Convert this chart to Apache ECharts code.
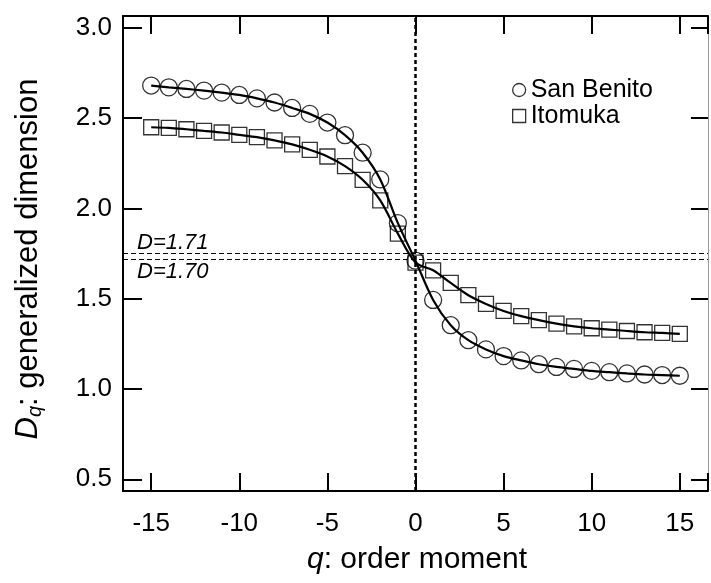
<!DOCTYPE html>
<html lang="en">
  <head>
    <meta charset="UTF-8" />
    <title>generalized dimension</title>
    <script src="https://cdn.jsdelivr.net/npm/echarts@6/dist/echarts.min.js"></script>
    <style>
      * {
        margin: 0;
        padding: 0;
      }
      html,
      body {
        background: #fff;
      }
    </style>
  </head>
  <body>
    <div id="charts" style="width: 711px; height: 583px"></div>
    <script>
      // order moment q
      var qValues = [
        -15, -14, -13, -12, -11, -10, -9, -8, -7, -6, -5, -4, -3, -2, -1, 0,
        1, 2, 3, 4, 5, 6, 7, 8, 9, 10, 11, 12, 13, 14, 15,
      ];
      // D_q values
      var sanBenito = [
        2.68, 2.67, 2.661, 2.652, 2.641, 2.628, 2.609, 2.586, 2.556, 2.523,
        2.475, 2.405, 2.308, 2.16, 1.918, 1.71, 1.493, 1.353, 1.27, 1.219,
        1.182, 1.158, 1.137, 1.122, 1.111, 1.1, 1.093, 1.086, 1.08, 1.077,
        1.073,
      ];
      var itomuka = [
        2.449, 2.446, 2.438, 2.429, 2.42, 2.407, 2.394, 2.376, 2.354, 2.324,
        2.287, 2.234, 2.158, 2.044, 1.86, 1.7, 1.657, 1.587, 1.519, 1.471,
        1.432, 1.403, 1.381, 1.362, 1.347, 1.336, 1.329, 1.321, 1.314, 1.31,
        1.305,
      ];
      // the two reference lines (drawn slightly apart in the figure)
      var refLevels = [1.745, 1.723];
      var refLabels = ["D=1.71", "D=1.70"];

      var FONT = "Liberation Sans";
      var myEcharts = echarts.init(document.getElementById("charts"));

      function pairs(ys) {
        return qValues.map(function (q, i) {
          return [q, ys[i]];
        });
      }

      var hollow = {
        color: "rgba(0,0,0,0)",
        borderColor: "#000",
        borderWidth: 1.3,
      };

      var options = {
        animation: false,
        backgroundColor: "#fff",
        grid: { left: 123, right: 1, top: 16, bottom: 92 },
        legend: {
          orient: "vertical",
          left: 507,
          top: 72,
          itemWidth: 13,
          itemHeight: 13,
          itemGap: 0,
          itemStyle: hollow,
          textStyle: {
            fontFamily: FONT,
            fontSize: 25,
            lineHeight: 26,
            color: "#000",
          },
          data: [
            { name: "San Benito", icon: "circle" },
            { name: "Itomuka", icon: "rect" },
          ],
        },
        xAxis: [
          {
            type: "value",
            min: -16.6,
            max: 16.6,
            position: "bottom",
            splitLine: { show: false },
            axisLine: { onZero: false, lineStyle: { color: "#000", width: 2 } },
            axisTick: {
              inside: true,
              length: 18,
              lineStyle: { color: "#000", width: 2 },
            },
            axisLabel: {
              margin: 20,
              fontFamily: FONT,
              fontSize: 26,
              color: "#000",
              formatter: function (v) {
                return v % 5 === 0 ? String(v) : "";
              },
            },
          },
          {
            type: "value",
            min: -16.6,
            max: 16.6,
            position: "top",
            splitLine: { show: false },
            axisLine: { onZero: false, lineStyle: { color: "#000", width: 2 } },
            axisTick: {
              inside: true,
              length: 18,
              lineStyle: { color: "#000", width: 2 },
            },
            axisLabel: { show: false },
          },
        ],
        yAxis: [
          {
            type: "value",
            min: 0.435,
            max: 3.065,
            position: "left",
            splitLine: { show: false },
            axisLine: { onZero: false, lineStyle: { color: "#000", width: 2 } },
            axisTick: {
              inside: true,
              length: 19,
              lineStyle: { color: "#000", width: 2 },
            },
            axisLabel: {
              margin: 11,
              padding: [0, 0, 10, 0],
              fontFamily: FONT,
              fontSize: 26,
              color: "#000",
              formatter: function (v) {
                var r = Math.round(v * 2) / 2;
                return Math.abs(v - r) < 1e-6 ? r.toFixed(1) : "";
              },
            },
          },
          {
            type: "value",
            min: 0.435,
            max: 3.065,
            position: "right",
            splitLine: { show: false },
            axisLine: { onZero: false, lineStyle: { color: "#999", width: 1 } },
            axisTick: {
              inside: true,
              length: 17,
              lineStyle: { color: "#000", width: 2 },
            },
            axisLabel: { show: false },
          },
        ],
        series: [
          {
            name: "San Benito fit",
            type: "line",
            data: pairs(sanBenito),
            smooth: 0.3,
            showSymbol: false,
            lineStyle: { color: "#000", width: 2.2 },
            markLine: {
              silent: true,
              symbol: "none",
              label: { show: false },
              lineStyle: { color: "#000", width: 1, type: [5, 3] },
              data: refLevels.map(function (y) {
                return { yAxis: y };
              }),
            },
          },
          {
            name: "Itomuka fit",
            type: "line",
            data: pairs(itomuka),
            smooth: 0.3,
            showSymbol: false,
            lineStyle: { color: "#000", width: 2.2 },
            markLine: {
              silent: true,
              symbol: "none",
              label: { show: false },
              lineStyle: { color: "#000", width: 2.5, type: [4, 3] },
              data: [{ xAxis: 0 }],
            },
          },
          {
            name: "San Benito",
            type: "scatter",
            data: pairs(sanBenito),
            symbol: "circle",
            symbolSize: 17,
            itemStyle: hollow,
          },
          {
            name: "Itomuka",
            type: "scatter",
            data: pairs(itomuka),
            symbol: "rect",
            symbolSize: 15,
            itemStyle: hollow,
          },
        ],
        graphic: [
          {
            type: "text",
            left: 137,
            top: 232,
            style: {
              text: refLabels[0],
              font: "italic 22px " + FONT,
              fill: "#000",
            },
          },
          {
            type: "text",
            left: 137,
            top: 261,
            style: {
              text: refLabels[1],
              font: "italic 22px " + FONT,
              fill: "#000",
            },
          },
          {
            type: "text",
            x: 417,
            y: 560,
            style: {
              text: "{i|q}{n|: order moment}",
              align: "center",
              verticalAlign: "middle",
              fill: "#000",
              rich: {
                i: { fontFamily: FONT, fontSize: 30, fontStyle: "italic" },
                n: { fontFamily: FONT, fontSize: 30 },
              },
            },
          },
          {
            type: "text",
            x: 28,
            y: 259,
            rotation: Math.PI / 2,
            style: {
              text: "{d|D}{s|q}{n|: generalized dimension}",
              align: "center",
              verticalAlign: "middle",
              fill: "#000",
              rich: {
                d: {
                  fontFamily: FONT,
                  fontSize: 31,
                  fontStyle: "italic",
                  lineHeight: 34,
                },
                s: {
                  fontFamily: FONT,
                  fontSize: 20,
                  fontStyle: "italic",
                  lineHeight: 18,
                  verticalAlign: "bottom",
                },
                n: { fontFamily: FONT, fontSize: 31, lineHeight: 34 },
              },
            },
          },
        ],
      };
      myEcharts.setOption(options);
    </script>
  </body>
</html>
